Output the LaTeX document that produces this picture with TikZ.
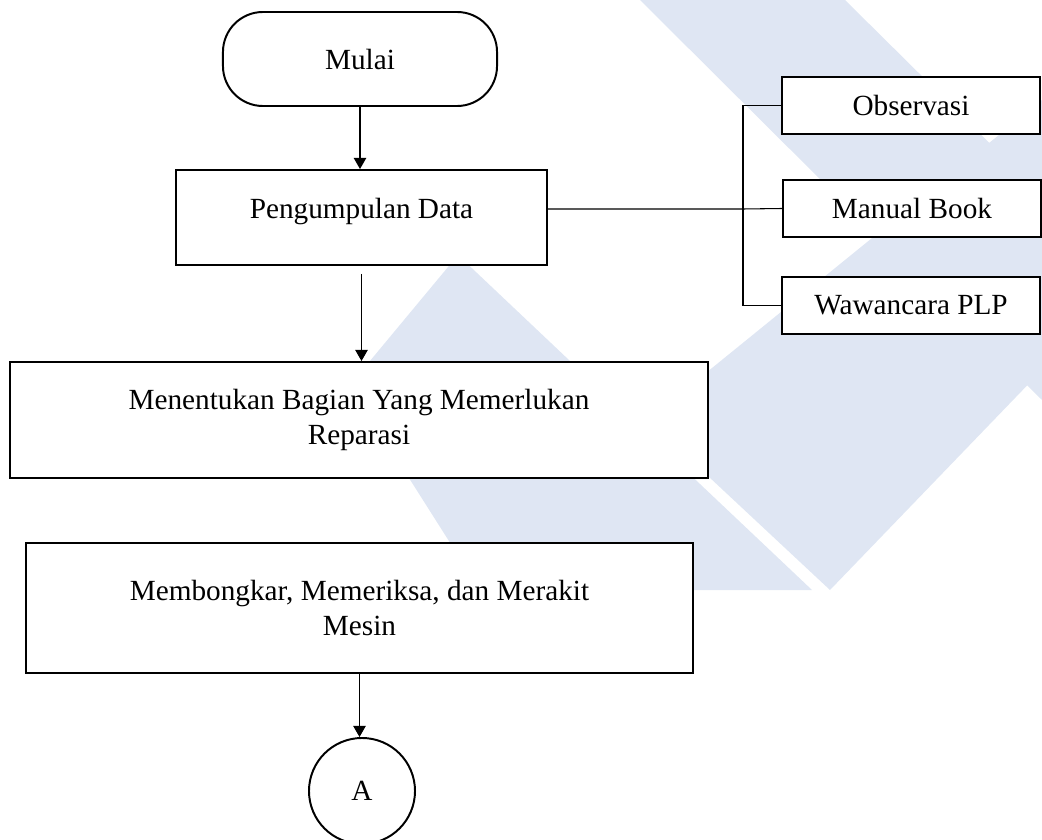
\documentclass[tikz,border=0pt]{standalone}
\usepackage{fontspec}
\setmainfont{Liberation Serif}
\usetikzlibrary{arrows.meta}
\definecolor{wmblue}{RGB}{223,230,243}
\begin{document}
\begin{tikzpicture}
  [x=0.025cm,y=-0.025cm,
   every node/.style={font=\fontsize{20.8}{25}\selectfont,inner sep=0pt},
   box/.style={draw,fill=white,line width=1.4pt,align=center},
   term/.style={box,rounded corners=1cm,minimum width=6.85cm,minimum height=2.35cm},
   side/.style={box,minimum width=6.45cm,minimum height=1.425cm},
   arr/.style={line width=0.75pt,-{Triangle[width=9pt,length=8pt]}},
   link/.style={line width=0.75pt}]
\useasboundingbox (0,0) rectangle (1042,840);
% watermark
\fill[wmblue] (640,0) -- (845,0) -- (1042,195) -- (1042,400) -- cycle;
\fill[wmblue] (648,420) -- (1042,100) -- (1042,370) -- (830,590) -- cycle;
\fill[wmblue] (350,385) -- (458,255) -- (812,590) -- (480,590) -- cycle;

\node (start)[term] at (360,59) {Mulai};
\node (data)[box,minimum width=9.275cm,minimum height=2.375cm,
  label={[yshift=0.16cm]center:Pengumpulan Data}] at (361.5,217.5) {};
\node (part)[box,minimum width=17.45cm,minimum height=2.9cm] at (359,420)
  {Menentukan Bagian Yang Memerlukan\\Reparasi};
\node (repair)[box,minimum width=16.675cm,minimum height=3.225cm] at (359.5,608)
  {Membongkar, Memeriksa, dan Merakit\\Mesin};
\node (conA)[box,circle,minimum size=2.65cm] at (362,791) {A};

\node (obs)[side] at (911,105.5) {Observasi};
\node (man)[side] at (912,208.5) {Manual Book};
\node (wwc)[side] at (911,305.5) {Wawancara PLP};
\coordinate (split) at (743,209);

\draw[arr] (start.south) -- (start.south |- data.north);
\draw[arr,shorten <=0.2cm] (data.south) -- (data.south |- part.north);
\draw[arr] (repair.south) -- (repair.south |- conA.north);
\draw[link] (data.east |- split) -- (split) -- (man.west);
\draw[link] (obs.west) -| (split) |- (wwc.west);
\end{tikzpicture}
\end{document}
